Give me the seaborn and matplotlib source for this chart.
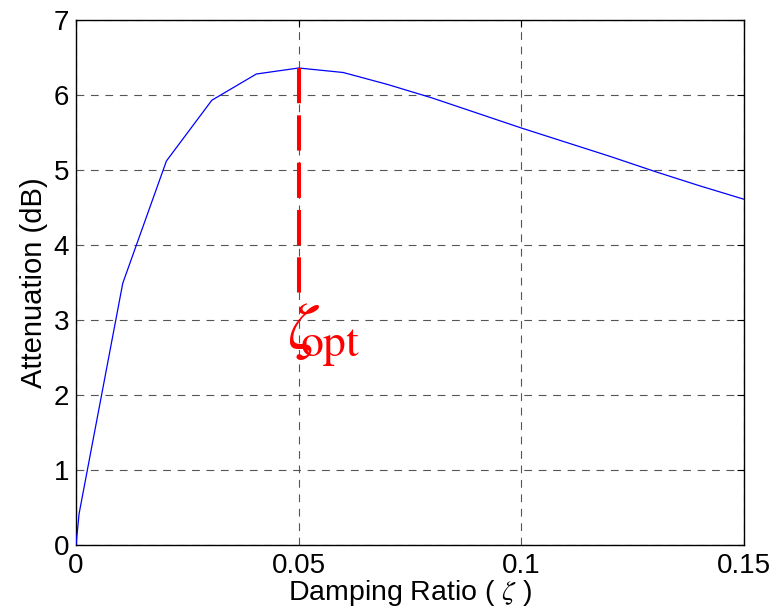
import matplotlib
matplotlib.use("Agg")
import matplotlib.pyplot as plt
import seaborn as sns
import pandas as pd

# ---- data ----
damping = [0, 0.0007, 0.0105, 0.0203, 0.0305, 0.0405, 0.05, 0.06, 0.07, 0.08,
           0.09, 0.10, 0.11, 0.12, 0.13, 0.14, 0.15]
attenuation = [0, 0.42, 3.49, 5.12, 5.93, 6.28, 6.36, 6.30, 6.14, 5.96,
               5.76, 5.56, 5.37, 5.18, 4.98, 4.79, 4.61]
zeta_opt_x = [0.05, 0.05]
zeta_opt_y = [6.36, 3.36]
x_ticks = [0, 0.05, 0.1, 0.15]
x_tick_labels = ["0", "0.05", "0.1", "0.15"]
y_ticks = [0, 1, 2, 3, 4, 5, 6, 7]
y_tick_labels = ["0", "1", "2", "3", "4", "5", "6", "7"]

sns.set_style("white")
plt.rcParams["font.family"] = ["Liberation Sans", "DejaVu Sans"]
plt.rcParams["mathtext.fontset"] = "stix"

fig = plt.figure(figsize=(7.74, 6.15), dpi=100)
ax = fig.add_axes([76 / 774, 1 - 545 / 615, (744 - 76) / 774, (545 - 20) / 615])

df = pd.DataFrame({"zeta": damping, "att": attenuation})
sns.lineplot(data=df, x="zeta", y="att", ax=ax, color="#0000ff", lw=0.9,
             sort=False, estimator=None, zorder=3)
sns.lineplot(x=zeta_opt_x, y=zeta_opt_y, ax=ax, color="#ff0000", lw=2.9,
             sort=False, estimator=None, linestyle=(0, (8.75, 3)), zorder=4)

ax.set_xlim(0, 0.15)
ax.set_ylim(0, 7)
ax.set_xticks(x_ticks)
ax.set_xticklabels(x_tick_labels)
ax.set_yticks(y_ticks)
ax.set_yticklabels(y_tick_labels)
ax.tick_params(axis="both", direction="in", length=5, width=0.8, labelsize=20,
               top=True, right=True, color="black", labelcolor="black")
ax.tick_params(axis="x", pad=6)
ax.tick_params(axis="y", pad=5)

ax.grid(True, color="#555555", lw=0.8, linestyle=(0, (7, 6)))
for s in ax.spines.values():
    s.set_visible(True)
    s.set_color("black")
    s.set_linewidth(1.0)

ax.set_xlabel(r"Damping Ratio ( $\zeta$ )", fontsize=20.5, labelpad=-1, color="black")
ax.set_ylabel("Attenuation (dB)", fontsize=21, labelpad=4, color="black")

ax.text(0.0474, 2.62, r"$\zeta_{\!\!\!\rm opt}$", color="#ff0000", fontsize=47,
        va="baseline", ha="left", zorder=5)

fig.savefig("out.png", dpi=100)
